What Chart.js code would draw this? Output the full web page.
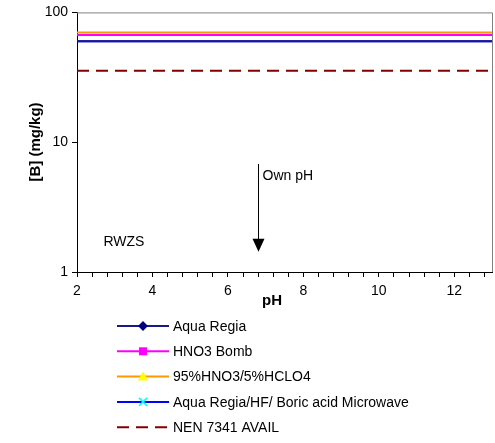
<!DOCTYPE html>
<html>
<head>
<meta charset="utf-8">
<script src="https://cdn.jsdelivr.net/npm/chart.js@4/dist/chart.umd.min.js"></script>
<style>
  html, body { margin: 0; padding: 0; background: #fff; }
  #wrap { width: 495px; height: 443px; position: relative; }
</style>
</head>
<body>
<div id="wrap"><canvas id="chartB"></canvas></div>
<script>
// pH range of the horizontal lines
const PH_X        = [2, 13];
const AQUA_REGIA  = [60, 60];
const HNO3_BOMB   = [67, 67];
const HNO3_HCLO4  = [70, 70];
const MICROWAVE   = [60, 60];
const NEN_AVAIL   = [35.5, 35.5];

const SERIES_LABELS = ['Aqua Regia', 'HNO3 Bomb', '95%HNO3/5%HCLO4',
                       'Aqua Regia/HF/ Boric acid Microwave', 'NEN 7341 AVAIL'];
const Y_TICKS = [1, 10, 100];
const X_LABELS = [2, 4, 6, 8, 10, 12];
const X_MINOR_STEP = 0.4;

// annotations
const OWN_PH = 6.8;
const OWN_PH_Y = [6.8, 1.43];
const OWN_PH_TEXT_Y = 5.5;
const RWZS_AT = [2.7, 1.7];

const FONT = '"Liberation Sans", Arial, sans-serif';

function pts(vals) { return PH_X.map((x, i) => ({ x, y: vals[i] })); }

const datasets = [
  { label: SERIES_LABELS[0], data: pts(AQUA_REGIA), borderColor: '#1a1a80', marker: 'diamond', markerColor: '#000080' },
  { label: SERIES_LABELS[1], data: pts(HNO3_BOMB),  borderColor: '#ff00ff', marker: 'square',  markerColor: '#ff00ff' },
  { label: SERIES_LABELS[2], data: pts(HNO3_HCLO4), borderColor: '#ff9900', marker: 'triangle', markerColor: '#ffff00' },
  { label: SERIES_LABELS[3], data: pts(MICROWAVE),  borderColor: '#0000ff', marker: 'cross',   markerColor: '#00ffff' },
  { label: SERIES_LABELS[4], data: pts(NEN_AVAIL),  borderColor: '#800000', borderDash: [12, 7], marker: null },
].map(d => Object.assign({ borderWidth: 2, pointRadius: 0, fill: false, tension: 0 }, d));

function drawMarker(ctx, kind, color, x, y) {
  ctx.save();
  ctx.fillStyle = color;
  ctx.strokeStyle = color;
  ctx.beginPath();
  if (kind === 'diamond') {
    ctx.moveTo(x, y - 5); ctx.lineTo(x + 5, y); ctx.lineTo(x, y + 5); ctx.lineTo(x - 5, y);
    ctx.closePath(); ctx.fill();
  } else if (kind === 'square') {
    ctx.rect(x - 4, y - 4, 8, 8); ctx.fill();
  } else if (kind === 'triangle') {
    ctx.moveTo(x, y - 5); ctx.lineTo(x + 5, y + 4); ctx.lineTo(x - 5, y + 4);
    ctx.closePath(); ctx.fill();
  } else if (kind === 'cross') {
    ctx.lineWidth = 1.5;
    ctx.moveTo(x - 4, y - 4); ctx.lineTo(x + 4, y + 4);
    ctx.moveTo(x + 4, y - 4); ctx.lineTo(x - 4, y + 4);
    ctx.stroke();
  }
  ctx.restore();
}

const extras = {
  id: 'extras',
  afterDraw(chart) {
    const { ctx, chartArea: a, scales } = chart;
    const xs = scales.x, ys = scales.y;
    ctx.save();

    // grey top/right frame
    ctx.strokeStyle = '#808080';
    ctx.lineWidth = 1;
    ctx.beginPath();
    ctx.moveTo(a.left, a.top + 0.5); ctx.lineTo(a.right + 0.5, a.top + 0.5);
    ctx.lineTo(a.right + 0.5, a.bottom);
    ctx.stroke();

    // axis titles
    ctx.fillStyle = '#000';
    ctx.font = 'bold 15px ' + FONT;
    ctx.textAlign = 'center';
    ctx.textBaseline = 'middle';
    ctx.fillText('pH', 272, 301);
    ctx.save();
    ctx.translate(36, 142);
    ctx.rotate(-Math.PI / 2);
    ctx.fillText('[B] (mg/kg)', 0, 0);
    ctx.restore();

    // annotations
    ctx.font = '14px ' + FONT;
    ctx.textAlign = 'left';
    ctx.fillText('RWZS', xs.getPixelForValue(RWZS_AT[0]), ys.getPixelForValue(RWZS_AT[1]));
    const ax = Math.round(xs.getPixelForValue(OWN_PH)) + 0.5;
    const y0 = ys.getPixelForValue(OWN_PH_Y[0]);
    const y1 = ys.getPixelForValue(OWN_PH_Y[1]);
    ctx.fillText('Own pH', ax + 4, ys.getPixelForValue(OWN_PH_TEXT_Y));
    ctx.strokeStyle = '#000';
    ctx.lineWidth = 1;
    ctx.beginPath(); ctx.moveTo(ax, y0); ctx.lineTo(ax, y1 - 10); ctx.stroke();
    ctx.beginPath();
    ctx.moveTo(ax, y1); ctx.lineTo(ax - 6, y1 - 13); ctx.lineTo(ax + 6, y1 - 13);
    ctx.closePath(); ctx.fill();

    // legend
    ctx.font = '14px ' + FONT;
    chart.data.datasets.forEach((d, i) => {
      const y = 326 + i * 25.3;
      ctx.strokeStyle = d.borderColor;
      ctx.lineWidth = 2;
      ctx.setLineDash(d.borderDash || []);
      ctx.beginPath(); ctx.moveTo(117, y); ctx.lineTo(169, y); ctx.stroke();
      ctx.setLineDash([]);
      if (d.marker) drawMarker(ctx, d.marker, d.markerColor, 143, y);
      ctx.fillStyle = '#000';
      ctx.fillText(d.label, 173, y + 1);
    });
    ctx.restore();
  }
};

new Chart(document.getElementById('chartB'), {
  type: 'line',
  data: { datasets },
  plugins: [extras],
  options: {
    responsive: true,
    maintainAspectRatio: false,
    animation: false,
    layout: { padding: { top: 12, right: 3, left: 0, bottom: 0 } },
    plugins: { legend: { display: false }, tooltip: { enabled: false } },
    scales: {
      x: {
        type: 'linear', min: 2, max: 13,
        border: { color: '#000', width: 1 },
        grid: { drawOnChartArea: false, drawTicks: true, tickLength: 5, color: '#000' },
        afterBuildTicks(s) {
          const t = [];
          for (let i = 0; PH_X[0] + i * X_MINOR_STEP <= PH_X[1] + 1e-9; i++) {
            t.push({ value: +(PH_X[0] + i * X_MINOR_STEP).toFixed(2) });
          }
          s.ticks = t;
        },
        ticks: {
          color: '#000', font: { family: FONT, size: 14 }, padding: 6, maxRotation: 0, autoSkip: false,
          callback: v => X_LABELS.includes(v) ? String(v) : ''
        },
        afterFit(s) { s.height = 171; }
      },
      y: {
        type: 'logarithmic', min: 1, max: 100,
        border: { color: '#000', width: 1 },
        grid: { drawOnChartArea: false, drawTicks: true, tickLength: 5, color: '#000' },
        afterBuildTicks(s) { s.ticks = Y_TICKS.map(v => ({ value: v })); },
        ticks: { color: '#000', font: { family: FONT, size: 14 }, padding: 4, callback: v => String(v) },
        afterFit(s) { s.width = 77; }
      }
    }
  }
});
</script>
</body>
</html>
